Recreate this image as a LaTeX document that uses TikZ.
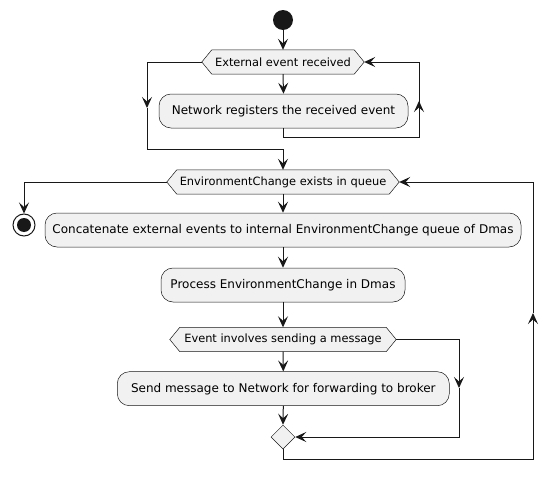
\documentclass[tikz,border=0pt]{standalone}
\usepackage{fontspec}
\setmainfont{DejaVu Sans}
\usetikzlibrary{arrows.meta,shapes.geometric}
\definecolor{ln}{HTML}{181818}
\definecolor{fl}{HTML}{F1F1F1}
\pgfdeclarelayer{bg}
\pgfsetlayers{bg,main}
\begin{document}
\begin{tikzpicture}[x=1pt,y=-1pt,
  act/.style={draw=ln, line width=0.5pt, fill=fl, rounded corners=12pt,
    minimum height=34pt, inner sep=0pt, font=\fontsize{12}{14}\selectfont},
  hextext/.style={inner sep=0pt, minimum height=24pt, font=\fontsize{11.4}{13}\selectfont},
  hexline/.style={draw=ln, line width=0.5pt, fill=fl},
  conn/.style={draw=ln, line width=1pt},
  arr/.style={conn, -{Stealth[length=11pt,width=10pt,inset=4.5pt]}},
  startc/.style={circle, fill=ln, minimum size=20pt, inner sep=0pt},
  stopc/.style={circle, draw=ln, fill=white, line width=1pt, minimum size=22pt, inner sep=0pt},
  merged/.style={diamond, draw=ln, line width=0.5pt, fill=fl, aspect=1, minimum width=24pt, minimum height=24pt, inner sep=0pt}
]
\useasboundingbox (0,0) rectangle (558,482);

% nodes
\node[startc] (start) at (283,20) {};
\node[hextext, minimum width=142pt] (d1) at (283,62) {External event received};
\coordinate (d1l) at ([xshift=-10pt]d1.west);
\coordinate (d1r) at ([xshift=10pt]d1.east);
\node[act, minimum width=249pt] (a1) at (283.5,111) {Network registers the received event};
\node[hextext, minimum width=212pt] (d2) at (283,182) {EnvironmentChange exists in queue};
\coordinate (d2l) at ([xshift=-10pt]d2.west);
\coordinate (d2r) at ([xshift=10pt]d2.east);
\node[stopc] (stop) at (24,225) {};
\fill[ln] (stop.center) circle (7);
\node[act, minimum width=476pt] (a2) at (283,230) {Concatenate external events to internal EnvironmentChange queue of Dmas};
\node[act, minimum width=244pt] (a3) at (283,285) {Process EnvironmentChange in Dmas};
\node[hextext, minimum width=206pt] (d3) at (283,339.5) {Event involves sending a message};
\coordinate (d3l) at ([xshift=-10pt]d3.west);
\coordinate (d3r) at ([xshift=10pt]d3.east);
\node[act, minimum width=332pt] (a4) at (283.3,388.7) {Send message to Network for forwarding to broker};
\node[merged] (merge) at (283,437) {};

\begin{pgfonlayer}{bg}
\foreach \d in {d1,d2,d3}{
  \draw[hexline] (\d.north west) -- (\d.north east) -- (\d r) -- (\d.south east) -- (\d.south west) -- (\d l) -- cycle;
}
\end{pgfonlayer}

% coordinates for routing
\coordinate (l1a) at (419,137);
\coordinate (m1) at (419,101);
\coordinate (b0) at (147,62);
\coordinate (m2) at (147,108);
\coordinate (b1) at (147,149);
\coordinate (j1) at (283,149);
\coordinate (r3a) at (459,339.5);
\coordinate (r3m) at (459,388);
\coordinate (r3b) at (459,437);
\coordinate (lb) at (283,459);
\coordinate (rb) at (533,459);
\coordinate (rm) at (533,313);

% connectors
\draw[arr] (start) -- (d1.north);
\draw[arr] (d1.south) -- (a1.north);
\draw[arr] (a1.south) |- (l1a) |- (d1r);
\draw[arr] (l1a) -- (m1);
\draw[arr] (d1l) -- (b0) -- (m2);
\draw[conn] (m2) -- (b1) -- (j1);
\draw[arr] (j1) -- (d2.north);
\draw[arr] (d2l) -| (stop.north);
\draw[arr] (d2.south) -- (a2.north);
\draw[arr] (a2.south) -- (a3.north);
\draw[arr] (a3.south) -- (d3.north);
\draw[arr] (d3.south) -- (a4.north);
\draw[arr] (a4.south) -- (merge.north);
\draw[arr] (d3r) -- (r3a) -- (r3m);
\draw[arr] (r3m) -- (r3b) -- (merge.east);
\draw[arr] (merge.south) -- (lb) -- (rb) -- (rm);
\draw[arr] (rm) |- (d2r);
\end{tikzpicture}
\end{document}
